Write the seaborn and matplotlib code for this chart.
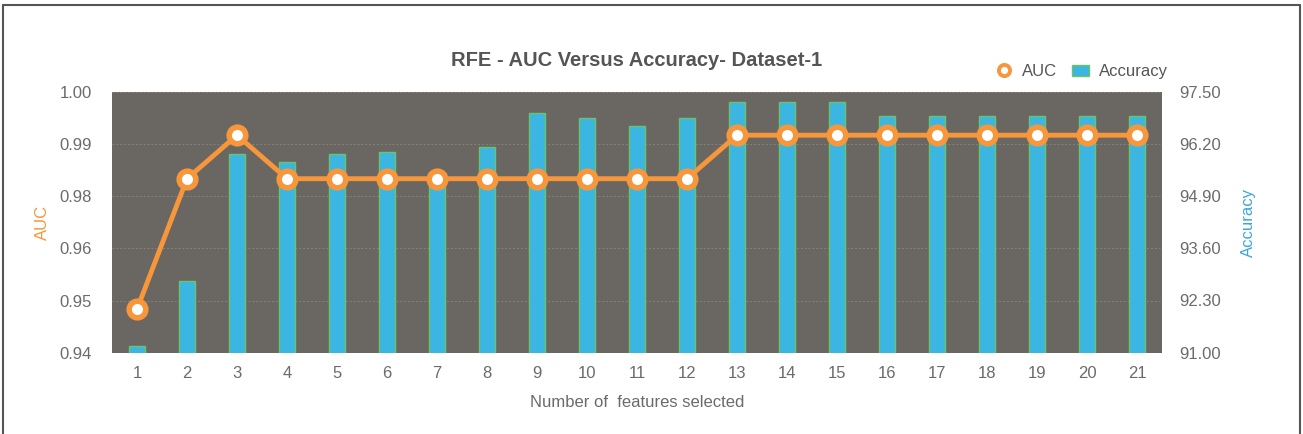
import numpy as np
import pandas as pd
import matplotlib
matplotlib.use("Agg")
import matplotlib.pyplot as plt
import seaborn as sns
from matplotlib.lines import Line2D
from matplotlib.patches import Patch

features = list(range(1, 22))
auc = [0.95, 0.98, 0.99, 0.98, 0.98, 0.98, 0.98, 0.98, 0.98, 0.98, 0.98, 0.98,
       0.99, 0.99, 0.99, 0.99, 0.99, 0.99, 0.99, 0.99, 0.99]
accuracy = [91.17, 92.79, 95.94, 95.74, 95.94, 96.00, 95.15, 96.12, 96.98, 96.85,
            96.65, 96.85, 97.24, 97.24, 97.24, 96.90, 96.90, 96.90, 96.90, 96.90, 96.90]
auc_ticks = [0.94, 0.952, 0.964, 0.976, 0.988, 1.00]
acc_ticks = [91.00, 92.30, 93.60, 94.90, 96.20, 97.50]
title = "RFE - AUC Versus Accuracy- Dataset-1"

df = pd.DataFrame({"features": features, "AUC": auc, "Accuracy": accuracy})

sns.set_theme(style="white")
plt.rcParams["font.family"] = ["Liberation Sans", "DejaVu Sans"]

BG = "#6a6763"
BAR = "#3bb6e3"
BAR_EDGE = "#6cc46a"
LINE = "#f7963b"
TXT = "#6b6b6b"

fig = plt.figure(figsize=(13.03, 4.34), dpi=100)
ax = fig.add_axes([112 / 1303, 1 - 352.7 / 434, 1050 / 1303, 261 / 434])
ax2 = ax.twinx()

ax2.set_zorder(0)
ax.set_zorder(1)
ax.patch.set_visible(False)
ax2.set_facecolor(BG)
ax2.patch.set_visible(True)

sns.barplot(data=df, x="features", y="Accuracy", ax=ax2, native_scale=True,
            width=0.33, color=BAR, edgecolor=BAR_EDGE, linewidth=1.0, saturation=1)
ax2.set_ylim(91.0, 97.5)
ax2.set_yticks(acc_ticks)
ax2.set_yticklabels([f"{t:.2f}" for t in acc_ticks])
ax2.grid(axis="y", color="#85827e", linewidth=0.7, linestyle=(0, (2, 2)))
ax2.set_axisbelow(True)

sns.lineplot(data=df, x="features", y="AUC", ax=ax, color=LINE, linewidth=3.5,
             marker="o", markersize=12, markerfacecolor="white",
             markeredgecolor=LINE, markeredgewidth=4)
ax.set_ylim(0.94, 1.00)
ax.set_yticks(auc_ticks)
ax.set_yticklabels([f"{t:.2f}" for t in auc_ticks])
ax.set_xlim(0.5, 21.5)
ax.set_xticks(features)
ax.set_xticklabels([str(f) for f in features])

for a in (ax, ax2):
    for s in a.spines.values():
        s.set_visible(False)
    a.tick_params(axis="both", length=0, labelsize=12, colors=TXT)
ax.tick_params(axis="y", pad=14.5)
ax2.tick_params(axis="y", pad=12.5)
ax.tick_params(axis="x", pad=9.5)

ax.set_ylabel("AUC", color=LINE, fontsize=12, labelpad=7)
ax2.set_ylabel("Accuracy", color="#3aa8dc", fontsize=12, labelpad=14)
ax.set_xlabel("Number of  features selected", color=TXT, fontsize=12, labelpad=10)
ax2.set_xlabel("")

fig.text(637 / 1303, 1 - 61 / 434, title, ha="center", va="center",
         fontsize=14.5, fontweight="bold", color="#555555")

handles = [Line2D([], [], linestyle="none", marker="o", markersize=8,
                  markerfacecolor="white", markeredgecolor=LINE, markeredgewidth=2.8),
           Patch(facecolor=BAR, edgecolor=BAR_EDGE)]
leg = ax.legend(handles, ["AUC", "Accuracy"], loc="lower right",
                bbox_to_anchor=(1.02, 0.99), ncol=2, frameon=False, fontsize=12,
                handlelength=1.0, handletextpad=0.6, columnspacing=0.9)
for t in leg.get_texts():
    t.set_color("#555555")

fr = dict(transform=fig.transFigure, color="#555555", linewidth=1.5)
fig.add_artist(Line2D([3 / 1303, 3 / 1303], [0, 1 - 5 / 434], **fr))
fig.add_artist(Line2D([3 / 1303, 1300 / 1303], [1 - 5 / 434, 1 - 5 / 434], **fr))
fig.add_artist(Line2D([1300 / 1303, 1300 / 1303], [0, 1 - 5 / 434], **fr))

fig.savefig("out.png", dpi=100, facecolor="white")
